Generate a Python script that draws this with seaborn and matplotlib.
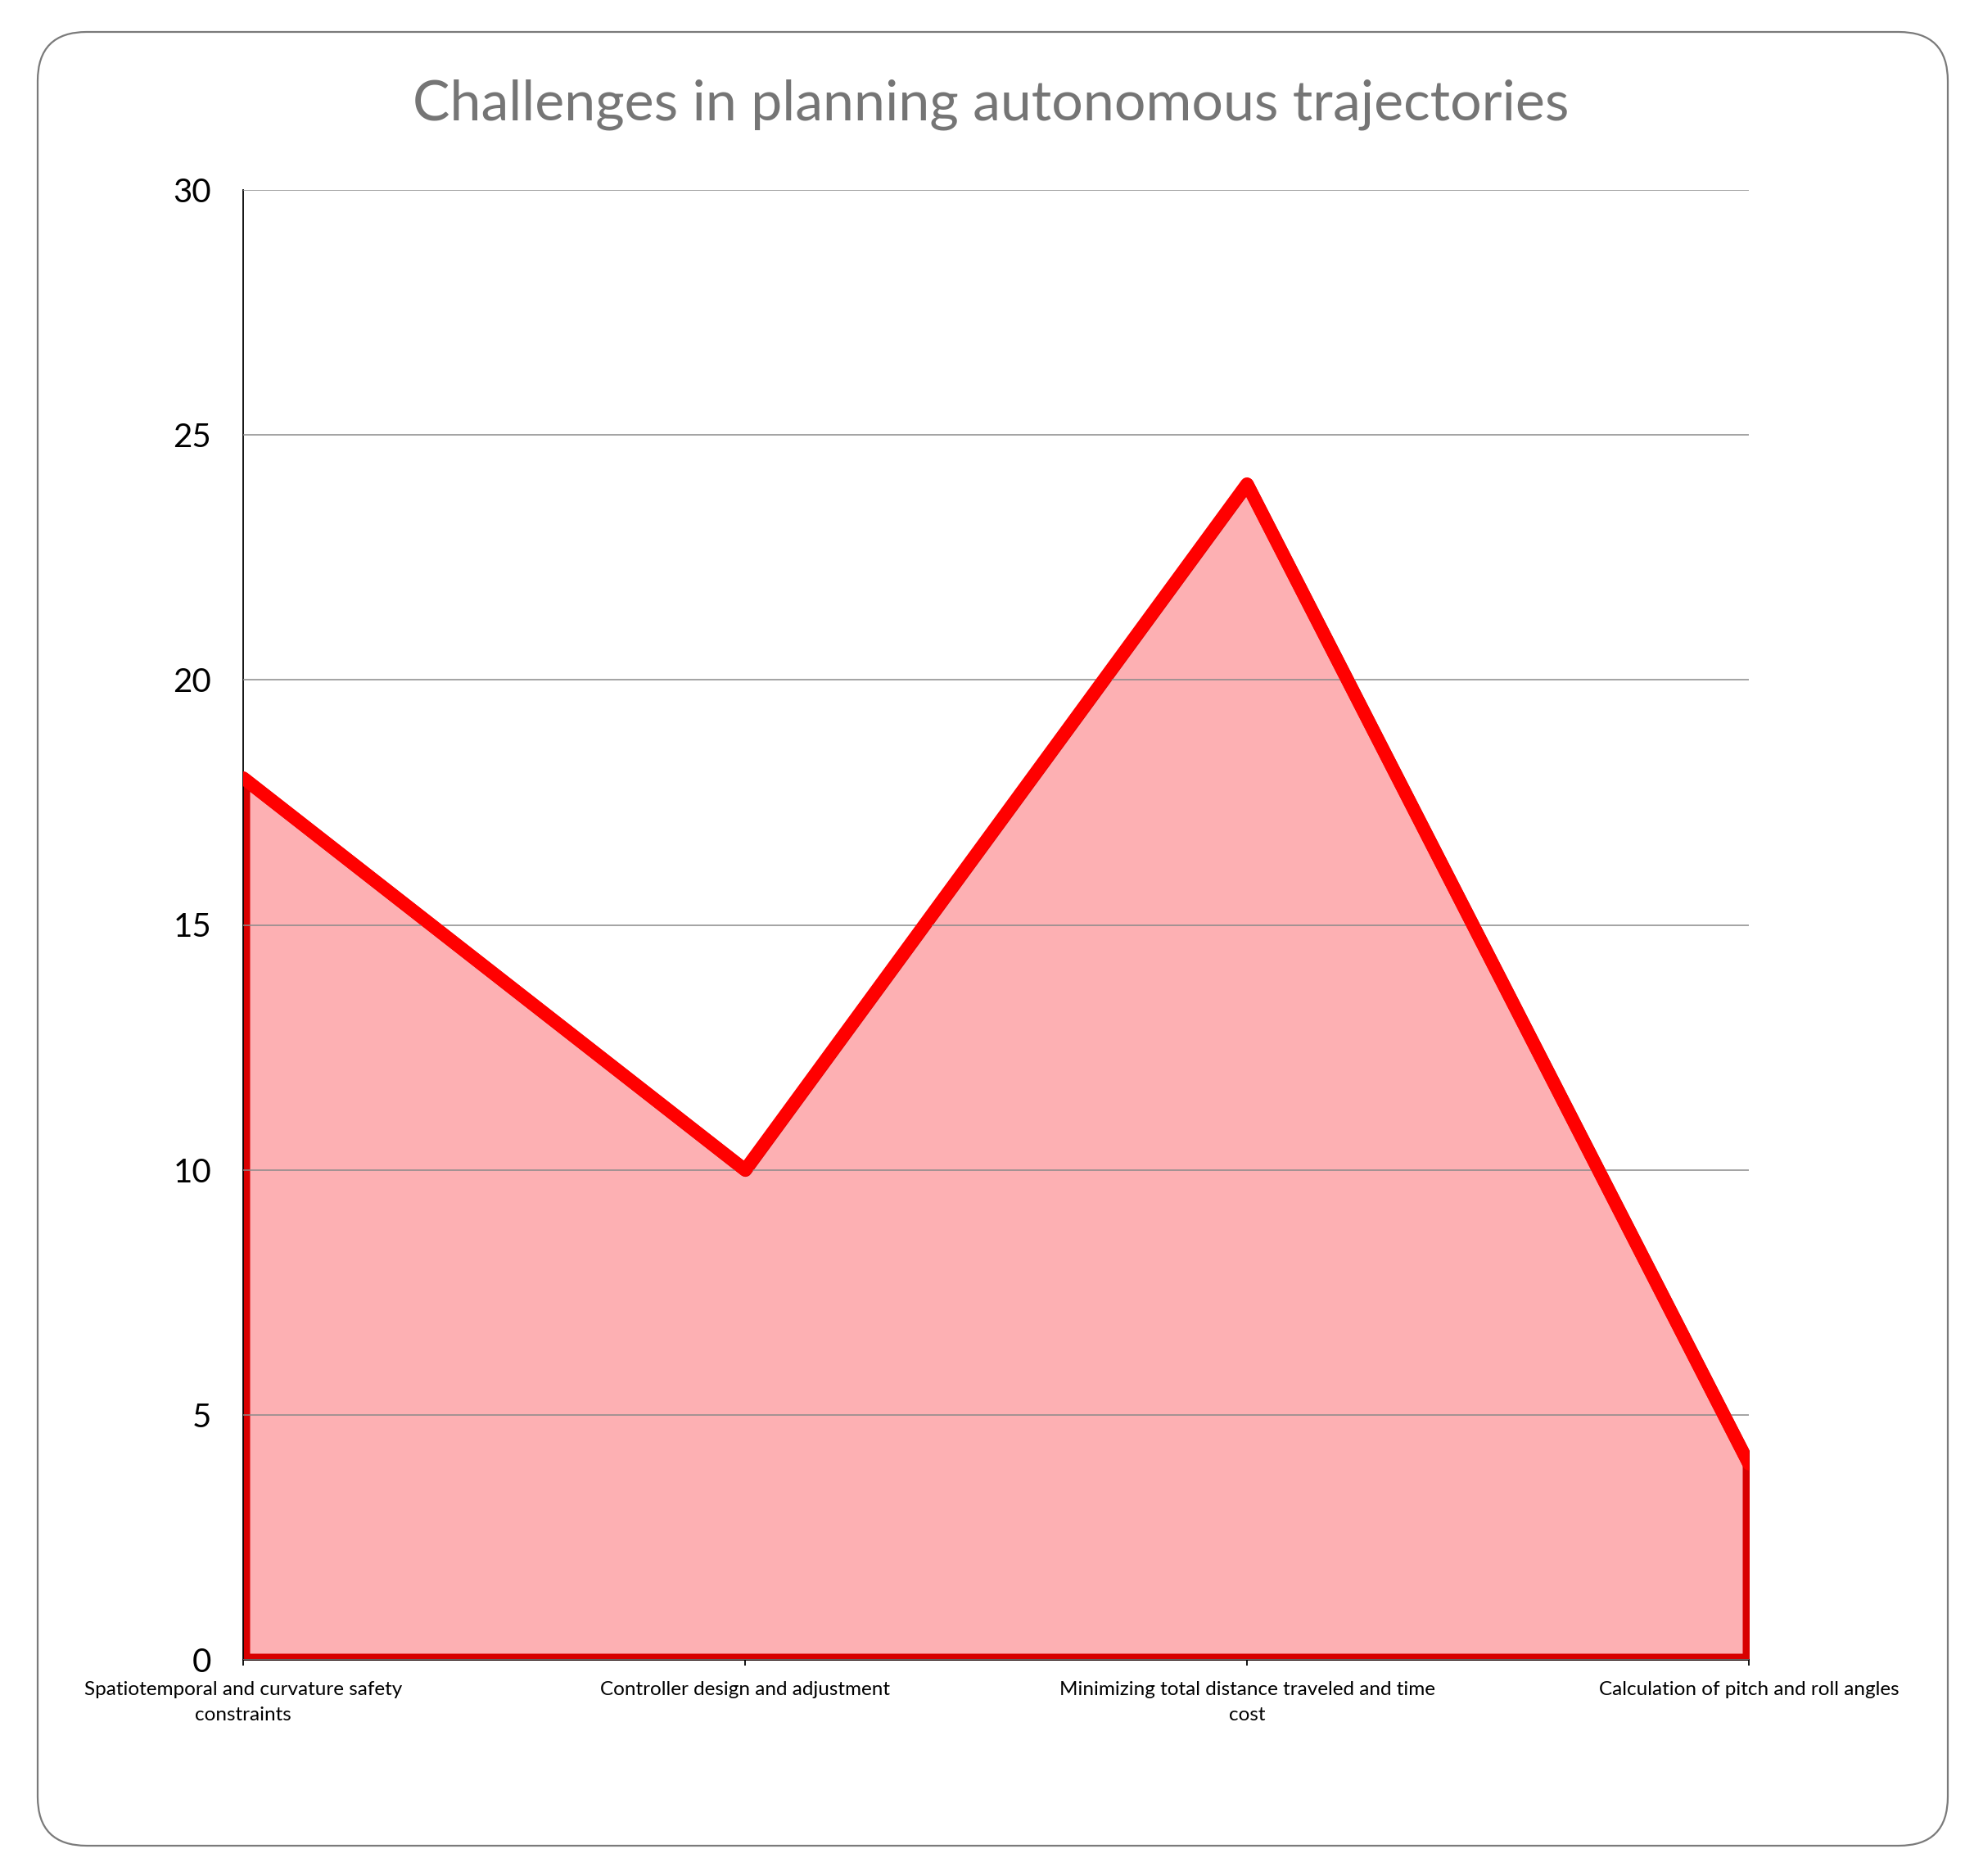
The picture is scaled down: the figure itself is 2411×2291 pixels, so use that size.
import matplotlib
matplotlib.use("Agg")
import matplotlib.pyplot as plt
import seaborn as sns
import pandas as pd
from matplotlib.patches import FancyBboxPatch
from matplotlib.transforms import IdentityTransform

categories = [
    "Spatiotemporal and curvature safety\nconstraints",
    "Controller design and adjustment",
    "Minimizing total distance traveled and time\ncost",
    "Calculation of pitch and roll angles",
]
values = [18, 10, 24, 4]
y_ticks = [0, 5, 10, 15, 20, 25, 30]
title = "Challenges in planning autonomous trajectories"

df = pd.DataFrame({"pos": range(len(categories)), "value": values})

sns.set_theme(style="white")
plt.rcParams["font.family"] = ["Lato", "DejaVu Sans"]

W, H, DPI = 2411, 2291, 100
fig = plt.figure(figsize=(W / DPI, H / DPI), dpi=DPI)

# rounded outer border (pixel coordinates)
border = FancyBboxPatch((46, H - 2254), 2379 - 46, 2254 - 39,
                        boxstyle="round,pad=0,rounding_size=60",
                        transform=IdentityTransform(), facecolor="none",
                        edgecolor="#7a7a7a", linewidth=1.6, zorder=-1)
fig.patches.append(border)

ax = fig.add_axes([297 / W, 1 - 2027 / H, (2136 - 297) / W, (2027 - 232) / H])
ax.set_facecolor("none")

ax.fill_between(df["pos"], 0, df["value"], facecolor="#fdb0b3",
                edgecolor="#d80000", linewidth=11.5, zorder=2)
sns.lineplot(data=df, x="pos", y="value", ax=ax, color="#ff0000",
             linewidth=11.5, zorder=3)

ax.set_xlim(0, len(categories) - 1)
ax.set_ylim(0, 30)
ax.set_yticks(y_ticks)
ax.set_yticklabels([str(t) for t in y_ticks], fontsize=29, color="black")
ax.set_xticks(df["pos"])
ax.set_xticklabels(categories, fontsize=17.5, color="black", linespacing=1.55)
ax.set_xlabel("")
ax.set_ylabel("")

ax.set_axisbelow(False)
ax.yaxis.grid(True, color="#8a8a8a", linewidth=1.1)
for gl in ax.get_ygridlines():
    gl.set_zorder(2.5)
for s in ["top", "right"]:
    ax.spines[s].set_visible(False)
ax.spines["left"].set_color("black")
ax.spines["left"].set_linewidth(1.3)
ax.spines["bottom"].set_color("black")
ax.spines["bottom"].set_linewidth(1.3)
ax.tick_params(axis="y", length=0, pad=28)
ax.tick_params(axis="x", direction="out", length=5, width=1.3, color="black",
               pad=14, bottom=True)

fig.text(1210 / W, 1 - 128 / H, title, ha="center", va="center",
         fontsize=49, color="#757575")

fig.savefig("out.png", dpi=DPI)
